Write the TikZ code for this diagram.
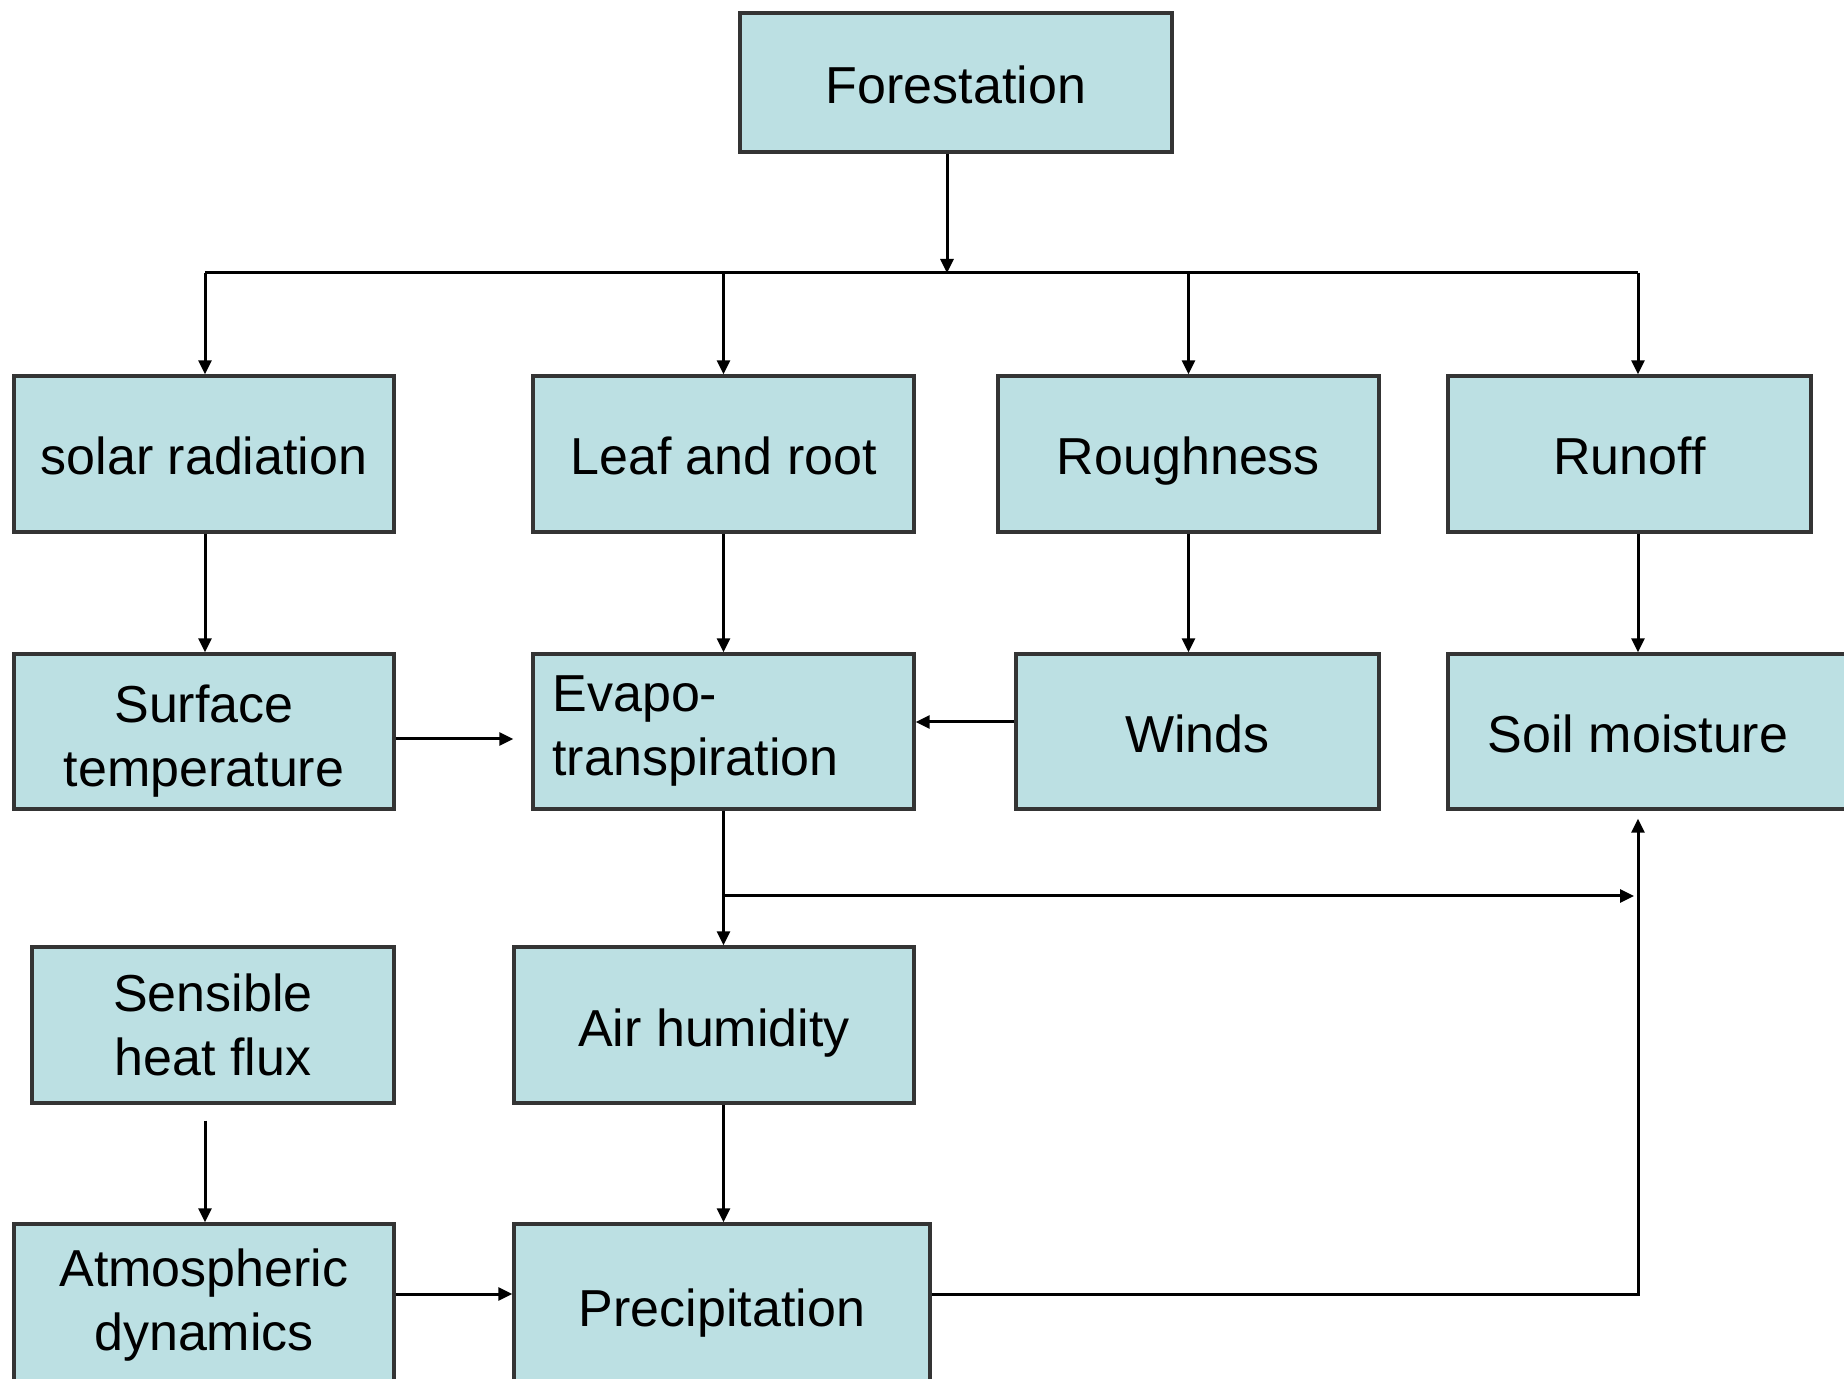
\documentclass[tikz,border=0pt]{standalone}
\usepackage{fontspec}
\setmainfont{Liberation Sans}
\usepackage{tikz}
\usetikzlibrary{arrows.meta}
\definecolor{boxfill}{RGB}{188,224,227}
\definecolor{boxline}{RGB}{52,52,52}
\begin{document}
\begin{tikzpicture}[x=0.5pt, y=-0.5pt, >={Triangle[length=7pt,width=6.5pt]},
          box/.style={draw=boxline, line width=1.7pt, fill=boxfill, inner sep=0pt,
            align=center, font=\fontsize{26}{32}\selectfont},
          oneline/.style={box, text height=21pt, text depth=0pt},
          link/.style={line width=1.5pt}]
          \useasboundingbox (0,0) rectangle (1844,1379);
          \node[oneline, minimum width=216pt, minimum height=69.5pt] (forest) at (956, 82.5) {Forestation};
          \node[oneline, minimum width=190pt, minimum height=78pt] (solar) at (204, 454) {solar radiation};
          \node[oneline, minimum width=190.5pt, minimum height=78pt] (leaf) at (723.5, 454) {Leaf and root};
          \node[oneline, minimum width=190.5pt, minimum height=78pt] (rough) at (1188.5, 454) {Roughness};
          \node[oneline, minimum width=181.5pt, minimum height=78pt] (runoff) at (1629.5, 454) {Runoff};
          \node[box, minimum width=190pt, minimum height=77.5pt] (surface) at (204, 731.5) {\rule{0pt}{28pt}Surface\\temperature};
          \node[box, minimum width=190.5pt, minimum height=77.5pt, text width=171pt, align=left] (evapo) at (723.5, 731.5) {Evapo-\\transpiration};
          \node[oneline, minimum width=181.5pt, minimum height=77.5pt] (winds) at (1197.5, 731.5) {Winds};
          \node[oneline, minimum width=206pt, minimum height=77.5pt] (soil) at (1654, 731.5) {Soil moisture\hspace{16pt}};
          \node[box, minimum width=181pt, minimum height=78pt] (sensible) at (213, 1025) {Sensible\\heat flux};
          \node[oneline, minimum width=200pt, minimum height=78pt] (air) at (714, 1025) {Air humidity};
          \node[box, minimum width=190pt, minimum height=81pt] (atmos) at (204, 1305) {Atmospheric\\dynamics};
          \node[oneline, minimum width=208pt, minimum height=81pt] (precip) at (722, 1305) {Precipitation};
          \coordinate (bus) at (947, 273);
          \coordinate (b1) at (205, 273);
          \coordinate (b4) at (1638, 273);
          \coordinate (split) at (723, 896);
          \draw[link, ->] (bus |- forest.south) to (bus);
          \draw[link] (b1) to (b4);
          \draw[link, ->] (b1) to (b1 |- solar.north);
          \draw[link, ->] (leaf.north |- bus) to (leaf.north);
          \draw[link, ->] (rough.north |- bus) to (rough.north);
          \draw[link, ->] (b4) to (b4 |- runoff.north);
          \draw[link, ->] (b1 |- solar.south) to (b1 |- surface.north);
          \draw[link, ->] (leaf.south) to (evapo.north);
          \draw[link, ->] (rough.south) to (rough.south |- winds.north);
          \draw[link, ->] (b4 |- runoff.south) to (b4 |- soil.north);
          \draw[link, ->, shorten >=9pt] ([yshift=-3.75pt]surface.east) to ([yshift=-3.75pt]evapo.west);
          \draw[link, ->] ([yshift=4.75pt]winds.west) to ([yshift=4.75pt]evapo.east);
          \draw[link, ->] (evapo.south) to (evapo.south |- air.north);
          \draw[link, ->, shorten >=2pt] (split) to (b4 |- split);
          \draw[link, ->, shorten <=8pt] (b1 |- sensible.south) to (b1 |- atmos.north);
          \draw[link, ->] (evapo.south |- air.south) to (evapo.south |- precip.north);
          \draw[link, ->] ([yshift=5.5pt]atmos.east) to ([yshift=5.5pt]precip.west);
          \draw[link, ->, shorten >=4pt] ([yshift=5.5pt]precip.east) -| (b4 |- soil.south);
        \end{tikzpicture}
\end{document}
